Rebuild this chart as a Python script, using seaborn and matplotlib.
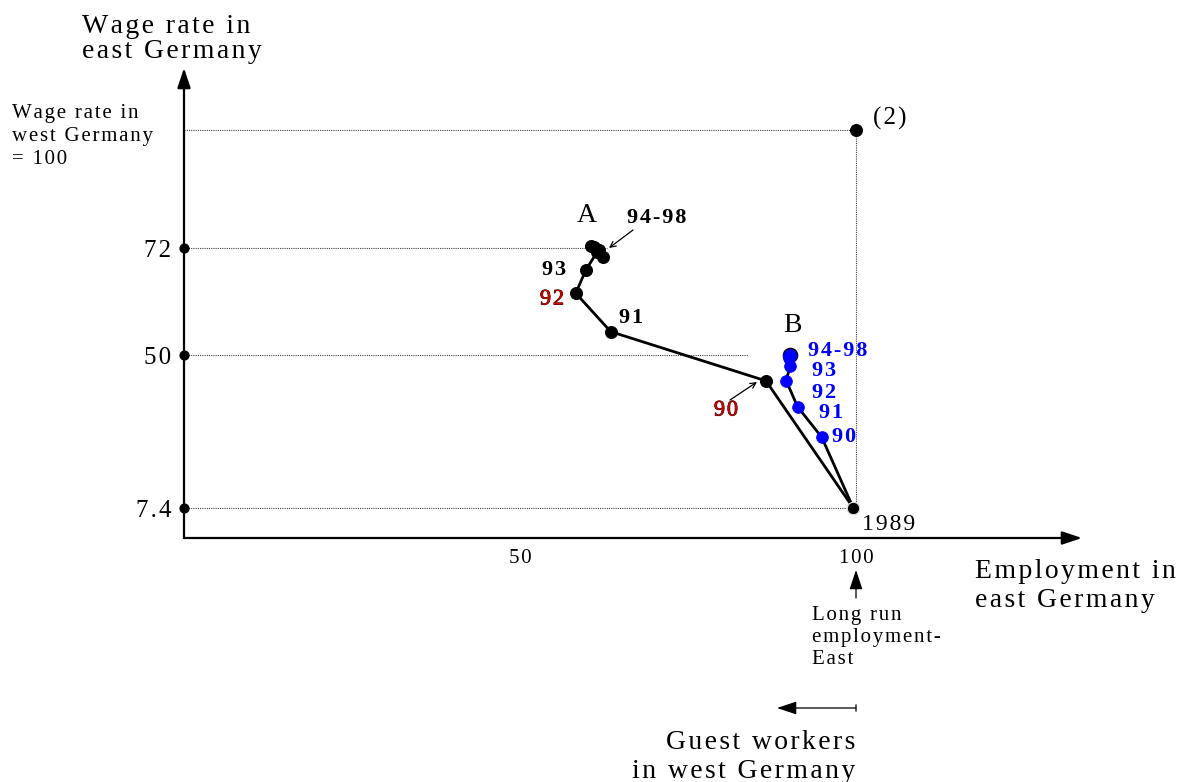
import numpy as np
import pandas as pd
import matplotlib.pyplot as plt
import matplotlib.patheffects as pe
import seaborn as sns

sns.set_style("white")
plt.rcParams['font.family'] = ['Liberation Serif', 'DejaVu Serif']
plt.rcParams['text.color'] = 'black'
plt.rcParams['xtick.color'] = 'black'
plt.rcParams['ytick.color'] = 'black'

W_PX, H_PX = 1189, 782
BLUE, DARKRED = "#0000FF", "#D00000"

# ── data (read off the schematic) ─────────────────────────
# path A: 1989 -> 90 -> ... -> 94-98
a_emp  = [99.6, 86.6, 63.5, 58.3, 59.8, 61.5, 62.35, 61.75, 61.0, 60.6]
a_wage = [7.4, 42.8, 54.8, 62.7, 67.5, 71.2, 70.2, 71.6, 72.2, 72.4]
# path B: 1989 -> 90 -> ... -> 94-98
b_emp  = [99.6, 94.9, 91.3, 89.6, 90.2, 90.05, 90.2, 90.1, 90.15, 90.25]
b_wage = [7.4, 27.1, 35.6, 42.9, 46.8, 49.1, 49.6, 49.8, 50.0, 50.1]

# guide lines (wage level, employment where dotted line ends)
guide_wage = [100, 72, 50, 7.4]
guide_end  = [100, 63, 84, 100]
point_2 = (100, 100)

y_ticks = [7.4, 50, 72]
y_labels = ['7.4', '50', '72']
x_ticks = list(range(0, 101, 10))
x_labels = ['' if t not in (50, 100) else str(t) for t in x_ticks]

# schematic (non-linear) wage axis
WAGE_KNOTS = [0, 7.4, 50, 72, 100, 120]
AXIS_POS   = [0, 30, 183, 290, 408, 492.3]
fwd = lambda w: np.interp(w, WAGE_KNOTS, AXIS_POS)
inv = lambda p: np.interp(p, AXIS_POS, WAGE_KNOTS)

HAIR = '\u200a'
def sp(s):
    # wide letter spacing like the original typesetting
    return '\n'.join(HAIR.join(line) for line in s.split('\n'))

def fxy(x, y):
    return x / W_PX, 1 - y / H_PX

fig = plt.figure(figsize=(W_PX / 100, H_PX / 100), dpi=100)
ax = fig.add_axes([184 / W_PX, 1 - 538 / H_PX, (1082 - 184) / W_PX, (538 - 68) / H_PX])

# dotted guides
for w, xe in zip(guide_wage, guide_end):
    ax.plot([0, xe], [w, w], color='#444444', lw=0.8, ls=(0, (1, 1)), zorder=1)
ax.plot([100, 100], [7.4, 100], color='#444444', lw=0.8, ls=(0, (1, 1)), zorder=1)

# paths
dfa = pd.DataFrame({'emp': a_emp, 'wage': a_wage})
dfb = pd.DataFrame({'emp': b_emp, 'wage': b_wage})
sns.lineplot(data=dfa, x='emp', y='wage', sort=False, estimator=None,
             color='black', lw=2, ax=ax, zorder=2)
sns.lineplot(data=dfb, x='emp', y='wage', sort=False, estimator=None,
             color='black', lw=2, ax=ax, zorder=2)
sns.scatterplot(data=dfa, x='emp', y='wage', color='black', s=75,
                edgecolor='black', ax=ax, zorder=3)
ax.scatter(b_emp[-1], b_wage[-1], s=105, color='black', zorder=3)
sns.scatterplot(data=dfb.iloc[1:], x='emp', y='wage', color=BLUE, s=70,
                edgecolor=BLUE, ax=ax, zorder=4)
sns.scatterplot(x=[a_emp[0]], y=[a_wage[0]], color='black', s=80, ax=ax, zorder=5)
ax.scatter(*point_2, s=70, color='black', zorder=5, clip_on=False)

ax.set_yscale('function', functions=(fwd, inv))
ax.set_xlim(0, 133.63)
ax.set_ylim(0, 114.71)
ax.set_xlabel('')
ax.set_ylabel('')
for s in ax.spines.values():
    s.set_visible(False)

ax.set_yticks(y_ticks, [sp(l) for l in y_labels])
ax.tick_params(axis='y', length=0, pad=9, labelsize=18)
ax.set_xticks(x_ticks, [sp(l) for l in x_labels])
ax.tick_params(axis='x', direction='inout', length=14, width=1.2, pad=1, labelsize=15)
ax.minorticks_off()
ax.scatter([0] * len(y_ticks), y_ticks, s=40, color='black', clip_on=False, zorder=6)

# axis arrows
arrow = dict(arrowstyle='-|>,head_length=0.6,head_width=0.2', lw=1.6, color='black',
             mutation_scale=20, shrinkA=0, shrinkB=0)
ax.annotate('', xy=(0, 1), xytext=(0, 0), xycoords='axes fraction', arrowprops=arrow)
ax.annotate('', xy=(1, 0), xytext=(0, 0), xycoords='axes fraction', arrowprops=arrow)

# ── texts ──────────────────────────────────────────────────
fig.text(*fxy(82, 14), sp('Wage rate in\neast Germany'), fontsize=20, va='top', linespacing=1.0)
fig.text(*fxy(12, 104), sp('Wage rate in\nwest Germany\n= 100'), fontsize=15, va='top',
         linespacing=1.3)
fig.text(*fxy(873, 118), sp('(2)'), fontsize=18, va='center')
fig.text(*fxy(862, 524), sp('1989'), fontsize=17, va='center')
fig.text(*fxy(975, 559), sp('Employment in\neast Germany'), fontsize=20, va='top',
         linespacing=1.2)
fig.text(*fxy(812, 606), sp('Long run\nemployment-\nEast'), fontsize=15, va='top',
         linespacing=1.2)
fig.text(*fxy(855, 730), sp('Guest workers\nin west Germany'), fontsize=20, va='top',
         ha='right', linespacing=1.2)

fig.text(*fxy(587, 215), 'A', fontsize=20, ha='center', va='center')
fig.text(*fxy(792, 326), 'B', fontsize=20, ha='center', va='center')
bold = dict(fontsize=16, fontweight='bold', va='center')
fig.text(*fxy(627, 218), sp('94-98'), **bold)
fig.text(*fxy(542, 270), sp('93'), **bold)
fig.text(*fxy(619, 318), sp('91'), **bold)

red_fx = [pe.Stroke(linewidth=0.6, foreground='#200000'), pe.Normal()]
fig.text(*fxy(552, 300), sp('92'), fontsize=16, color=DARKRED, va='center', ha='center',
         path_effects=red_fx)
fig.text(*fxy(726, 411), sp('90'), fontsize=16, color=DARKRED, va='center', ha='center',
         path_effects=red_fx)

for (x, y), lab in zip([(808, 351), (812, 371), (812, 393), (819, 413), (832, 437)],
                       ['94-98', '93', '92', '91', '90']):
    fig.text(*fxy(x, y), sp(lab), color=BLUE, **bold)

# pointer arrows
thin = dict(arrowstyle='->', lw=0.9, color='black', shrinkA=0, shrinkB=0)
head = dict(arrowstyle='-|>,head_length=0.6,head_width=0.2', lw=0.9,
            color='black', mutation_scale=20, shrinkA=0, shrinkB=0)
pointers = [((609, 248), (633, 230), thin), ((757, 382), (730, 400), thin),
            ((856, 570), (856, 598), head), ((777, 708), (856, 708), head),
            ((856, 702), (856, 714), dict(arrowstyle='-', lw=0.9, color='black'))]
for tip, tail, props in pointers:
    ax.annotate('', xy=fxy(*tip), xytext=fxy(*tail), xycoords='figure fraction',
                textcoords='figure fraction', arrowprops=props, annotation_clip=False)

plt.savefig('out.png', dpi=100)
plt.close()
